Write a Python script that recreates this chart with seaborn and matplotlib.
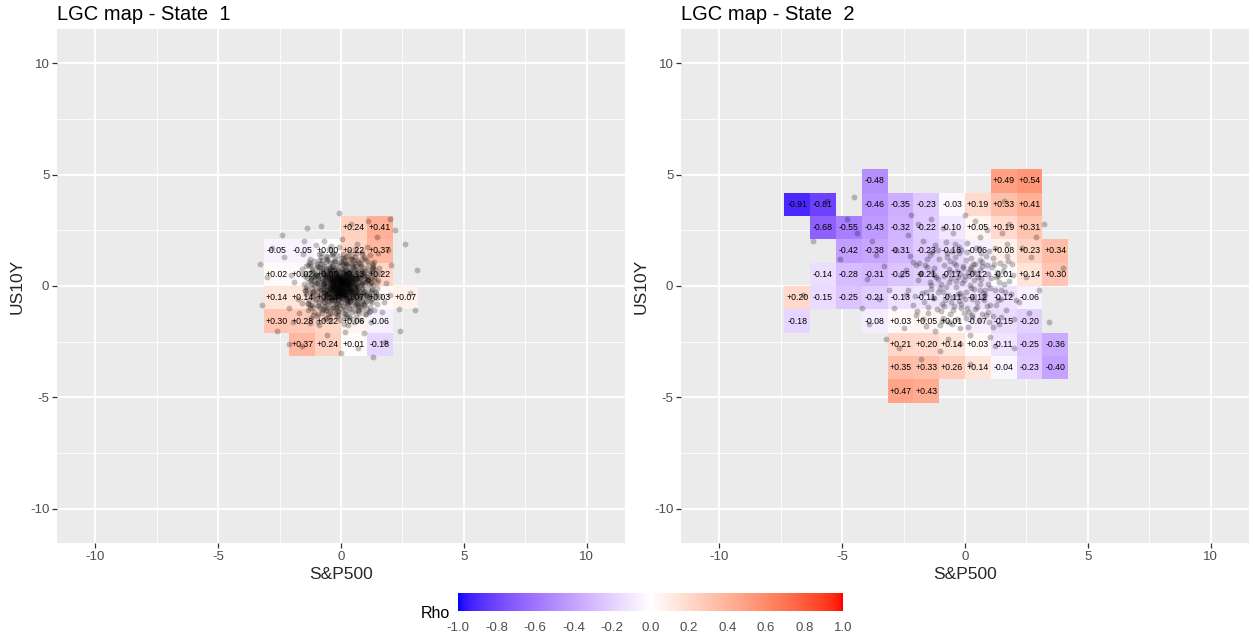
import numpy as np
import pandas as pd
import matplotlib
matplotlib.use("Agg")
import matplotlib.pyplot as plt
import seaborn as sns
from matplotlib.colors import ListedColormap, Normalize
from matplotlib.cm import ScalarMappable

# ---------------------------------------------------------------------------
# Local Gaussian correlation (rho) on the evaluation grid, per regime
# (tile centres in S&P500 / US10Y return units)
# ---------------------------------------------------------------------------
state1_sp = [0.525, 1.575,
             -2.625, -1.575, -0.525, 0.525, 1.575,
             -2.625, -1.575, -0.525, 0.525, 1.575,
             -2.625, -1.575, -0.525, 0.525, 1.575, 2.625,
             -2.625, -1.575, -0.525, 0.525, 1.575,
             -1.575, -0.525, 0.525, 1.575]
state1_us = [2.625, 2.625,
             1.575, 1.575, 1.575, 1.575, 1.575,
             0.525, 0.525, 0.525, 0.525, 0.525,
             -0.525, -0.525, -0.525, -0.525, -0.525, -0.525,
             -1.575, -1.575, -1.575, -1.575, -1.575,
             -2.625, -2.625, -2.625, -2.625]
state1_rho = [0.24, 0.41,
              -0.05, -0.05, 0.00, 0.22, 0.37,
              0.02, 0.02, 0.05, 0.13, 0.22,
              0.14, 0.14, 0.14, 0.07, 0.03, 0.07,
              0.30, 0.28, 0.22, 0.06, -0.06,
              0.37, 0.24, 0.01, -0.18]

state2_sp = [-3.675, 1.575, 2.625,
             -6.825, -5.775, -3.675, -2.625, -1.575, -0.525, 0.525, 1.575, 2.625,
             -5.775, -4.725, -3.675, -2.625, -1.575, -0.525, 0.525, 1.575, 2.625,
             -4.725, -3.675, -2.625, -1.575, -0.525, 0.525, 1.575, 2.625, 3.675,
             -5.775, -4.725, -3.675, -2.625, -1.575, -0.525, 0.525, 1.575, 2.625, 3.675,
             -6.825, -5.775, -4.725, -3.675, -2.625, -1.575, -0.525, 0.525, 1.575, 2.625,
             -6.825, -3.675, -2.625, -1.575, -0.525, 0.525, 1.575, 2.625,
             -2.625, -1.575, -0.525, 0.525, 1.575, 2.625, 3.675,
             -2.625, -1.575, -0.525, 0.525, 1.575, 2.625, 3.675,
             -2.625, -1.575]
state2_us = [4.725, 4.725, 4.725,
             3.675, 3.675, 3.675, 3.675, 3.675, 3.675, 3.675, 3.675, 3.675,
             2.625, 2.625, 2.625, 2.625, 2.625, 2.625, 2.625, 2.625, 2.625,
             1.575, 1.575, 1.575, 1.575, 1.575, 1.575, 1.575, 1.575, 1.575,
             0.525, 0.525, 0.525, 0.525, 0.525, 0.525, 0.525, 0.525, 0.525, 0.525,
             -0.525, -0.525, -0.525, -0.525, -0.525, -0.525, -0.525, -0.525, -0.525, -0.525,
             -1.575, -1.575, -1.575, -1.575, -1.575, -1.575, -1.575, -1.575,
             -2.625, -2.625, -2.625, -2.625, -2.625, -2.625, -2.625,
             -3.675, -3.675, -3.675, -3.675, -3.675, -3.675, -3.675,
             -4.725, -4.725]
state2_rho = [-0.48, 0.49, 0.54,
              -0.91, -0.81, -0.46, -0.35, -0.23, -0.03, 0.19, 0.33, 0.41,
              -0.68, -0.55, -0.43, -0.32, -0.22, -0.10, 0.05, 0.19, 0.31,
              -0.42, -0.38, -0.31, -0.23, -0.16, -0.06, 0.08, 0.23, 0.34,
              -0.14, -0.28, -0.31, -0.25, -0.21, -0.17, -0.12, -0.01, 0.14, 0.30,
              0.20, -0.15, -0.25, -0.21, -0.13, -0.11, -0.11, -0.12, -0.12, -0.06,
              -0.18, -0.08, 0.03, 0.05, 0.01, -0.07, -0.15, -0.20,
              0.21, 0.20, 0.14, 0.03, -0.11, -0.25, -0.36,
              0.35, 0.33, 0.26, 0.14, -0.04, -0.23, -0.40,
              0.47, 0.43]

# ---------------------------------------------------------------------------
# Observed daily returns (S&P500, US10Y) assigned to each regime
# ---------------------------------------------------------------------------
state1_obs = [
    (0.02, 0.05), (-0.12, 0.18), (0.21, -0.08), (-0.28, -0.03), (0.09, 0.33), (-0.05, -0.24), (0.31, 0.12), (-0.36, 0.27), (0.15, -0.33), (-0.18, 0.42),
    (0.42, -0.18), (-0.03, 0.01), (0.24, 0.27), (-0.33, -0.21), (0.06, -0.12), (-0.15, -0.39), (0.36, 0.39), (-0.42, 0.09), (0.12, 0.15), (-0.09, 0.30),
    (0.27, -0.27), (-0.24, 0.12), (0.00, -0.42), (0.18, 0.03), (-0.21, -0.12), (0.33, -0.03), (-0.39, -0.36), (0.03, 0.45), (-0.06, 0.12), (0.15, -0.21),
    (-0.30, 0.36), (0.39, 0.21), (-0.12, -0.06), (0.06, 0.24), (-0.45, -0.09), (0.21, 0.42), (-0.18, -0.27), (0.45, -0.33), (-0.03, -0.15), (0.09, 0.06),
    (-0.27, 0.21), (0.30, -0.15), (-0.09, -0.45), (0.24, 0.18), (-0.36, 0.00), (0.00, 0.21), (0.12, -0.39), (-0.15, 0.06), (0.36, 0.03), (-0.24, -0.33),
    (0.18, 0.36), (-0.42, 0.33), (0.03, -0.30), (-0.06, 0.39), (0.27, 0.09), (-0.21, 0.27), (0.42, -0.06), (-0.12, -0.18), (0.09, -0.03), (-0.33, 0.15),
    (0.15, 0.27), (-0.03, -0.33), (0.33, 0.30), (-0.18, 0.00), (0.06, 0.12), (-0.39, -0.18), (0.21, -0.42), (-0.09, 0.21), (0.39, -0.24), (-0.27, -0.09),
    (0.05, 0.10), (-0.20, 0.30), (0.35, -0.15), (-0.45, -0.05), (0.15, 0.55), (-0.10, -0.40), (0.50, 0.20), (-0.60, 0.45), (0.25, -0.55), (-0.30, 0.70),
    (0.70, -0.30), (-0.05, 0.00), (0.40, 0.45), (-0.55, -0.35), (0.10, -0.20), (-0.25, -0.65), (0.60, 0.65), (-0.70, 0.15), (0.20, 0.25), (-0.15, 0.50),
    (0.45, -0.45), (-0.40, 0.20), (0.00, -0.70), (0.30, 0.05), (-0.35, -0.20), (0.55, -0.05), (-0.65, -0.60), (0.05, 0.75), (-0.10, 0.20), (0.25, -0.35),
    (-0.50, 0.60), (0.65, 0.35), (-0.20, -0.10), (0.10, 0.40), (-0.75, -0.15), (0.35, 0.70), (-0.30, -0.45), (0.75, -0.55), (-0.05, -0.25), (0.15, 0.10),
    (-0.45, 0.35), (0.50, -0.25), (-0.15, -0.75), (0.40, 0.30), (-0.60, 0.00), (0.00, 0.35), (0.20, -0.65), (-0.25, 0.10), (0.60, 0.05), (-0.40, -0.55),
    (0.30, 0.60), (-0.70, 0.55), (0.05, -0.50), (-0.10, 0.65), (0.45, 0.15), (-0.35, 0.45), (0.70, -0.10), (-0.20, -0.30), (0.15, -0.05), (-0.55, 0.25),
    (0.25, 0.45), (-0.05, -0.55), (0.55, 0.50), (-0.30, 0.00), (0.10, 0.20), (-0.65, -0.30), (0.35, -0.70), (-0.15, 0.35), (0.65, -0.40), (-0.45, -0.15),
    (0.00, 0.15), (0.20, 0.70), (-0.25, -0.50), (0.50, 0.35), (-0.60, 0.70), (0.30, -0.25), (-0.10, -0.05), (0.75, 0.20), (-0.40, 0.55), (0.05, -0.35),
    (0.12, -0.34), (-0.47, 0.21), (0.83, 0.06), (-0.15, -0.92), (0.38, 0.61), (-0.71, -0.28), (1.05, -0.45), (-0.02, 0.77), (0.55, -0.13), (-1.12, 0.39),
    (0.27, 1.02), (-0.58, -0.66), (0.91, 0.48), (-0.33, 0.05), (0.06, -0.51), (-0.88, 0.84), (0.64, -0.79), (-0.19, 0.33), (1.21, 0.17), (-0.61, -1.08),
    (0.44, 0.19), (-0.07, -0.18), (0.73, -0.37), (-0.96, 0.12), (0.18, 0.88), (-0.41, -0.43), (0.99, 0.71), (-0.25, 1.14), (0.31, -0.97), (-1.28, -0.31),
    (0.02, 0.41), (-0.52, 0.57), (0.61, 0.29), (-0.13, -0.63), (0.86, -0.09), (-0.78, 0.31), (0.22, -0.24), (-0.36, 0.91), (1.17, -0.68), (-0.69, -0.02),
    (0.49, 0.82), (-0.21, -1.21), (0.14, 0.08), (-1.03, -0.57), (0.77, 0.55), (-0.45, 0.16), (0.33, -0.58), (-0.86, 1.03), (1.34, 0.33), (-0.11, -0.38),
    (0.58, -0.29), (-0.29, 0.47), (0.09, 1.26), (-0.64, -0.89), (0.95, -0.22), (-0.04, 0.24), (0.41, 0.46), (-1.19, 0.66), (0.69, -1.11), (-0.49, -0.14),
    (0.21, -0.71), (-0.82, -0.19), (1.09, 0.39), (-0.17, 0.62), (0.52, 0.03), (-0.56, 1.22), (0.81, 0.97), (-0.38, -0.77), (0.04, -0.09), (-0.93, 0.44),
    (0.36, 0.33), (-0.09, -0.47), (0.67, -0.58), (-0.74, 0.07), (1.26, -0.14), (-0.27, 0.29), (0.15, 0.69), (-0.59, -0.41), (0.89, 0.22), (-1.36, -0.76),
    (0.08, -0.26), (-0.43, 0.73), (0.79, -0.93), (-0.12, 0.14), (0.47, 1.18), (-0.99, -0.23), (0.26, -0.43), (-0.66, 0.49), (1.02, -0.36), (-0.31, -0.99),
    (0.63, 0.51), (-0.18, 0.96), (0.39, -0.17), (-1.08, 0.23), (0.17, -1.06), (-0.53, -0.31), (0.94, 0.62), (-0.01, -0.72), (0.71, 0.14), (-0.81, -0.63),
    (0.29, 0.04), (-0.63, 0.36), (1.14, -0.51), (-0.23, -0.19), (0.57, 0.77), (-0.91, -0.45), (0.11, 0.53), (-0.44, 1.07), (0.84, -0.66), (-1.21, 0.11),
    (0.46, -0.49), (-0.06, 0.36), (0.75, 0.37), (-0.68, -0.74), (0.03, 0.97), (-0.35, -0.08), (1.19, 0.58), (-0.79, 0.68), (0.24, -0.82), (-0.14, -0.31),
    (0.88, -0.41), (-0.49, 0.27), (0.19, -0.04), (-0.97, 0.97), (0.54, 0.26), (-0.24, -0.55), (0.68, 1.08), (-1.14, -0.41), (0.34, 0.58), (-0.57, 0.02),
    (1.31, 0.06), (-0.08, -0.84), (0.43, 0.42), (-0.73, 0.19), (0.01, -0.16), (-0.46, 0.64), (0.97, -0.81), (-0.28, -0.33), (0.62, 0.88), (-1.01, 0.55),
    (0.16, 0.27), (-0.54, -0.97), (0.82, 0.12), (-0.19, 0.51), (0.37, -0.67), (-0.86, -0.07), (0.07, 0.62), (-0.32, 0.18), (1.08, 0.27), (-0.62, -0.53),
    (0.53, -0.04), (-0.01, 1.09), (0.72, -0.24), (-1.24, 0.31), (0.28, 0.71), (-0.39, -0.64), (0.92, 0.43), (-0.16, -0.11), (0.45, -1.19), (-0.77, 0.81),
    (0.13, -0.58), (-0.67, 0.42), (1.23, -0.29), (-0.22, 0.83), (0.59, 0.36), (-0.94, -0.88), (0.32, 0.12), (-0.51, -0.24), (0.76, -0.47), (-0.05, 0.49),
    (0.99, 0.31), (-0.37, 0.38), (0.06, -0.37), (-0.83, -0.37), (0.41, 0.93), (-1.31, 0.19), (0.65, -0.14), (-0.12, 0.71), (0.23, 0.22), (-0.58, 1.17),
    (0.37, -0.11), (-0.26, -0.68), (0.85, 0.68), (-0.72, 0.58), (0.10, -0.89), (-0.45, 0.09), (1.12, 0.07), (-0.04, 0.32), (0.51, -0.32), (-1.06, -0.18),
    (0.19, 0.48), (-0.61, -0.16), (0.66, -0.72), (-0.30, 0.42), (0.96, 0.18), (-0.87, 0.34), (0.35, -0.55), (-0.13, -0.43), (0.78, 0.41), (-0.42, 0.81),
    (0.05, 0.17), (-0.10, 0.06), (0.22, -0.13), (-0.20, -0.22), (0.13, 0.29), (-0.31, 0.24), (0.27, 0.11), (-0.06, -0.31), (0.18, -0.27), (-0.24, 0.14),
    (0.32, 0.23), (-0.14, 0.39), (0.08, -0.08), (-0.37, -0.12), (0.25, 0.36), (-0.03, 0.16), (0.40, -0.21), (-0.27, -0.36), (0.11, 0.12), (-0.17, -0.02),
    (0.01, 0.28), (-0.34, 0.02), (0.29, -0.31), (-0.09, 0.26), (0.19, 0.04), (-0.22, -0.26), (0.35, 0.09), (-0.05, -0.13), (0.14, 0.37), (-0.39, 0.31),
    (0.24, -0.05), (-0.12, -0.23), (0.06, 0.21), (-0.28, 0.11), (0.38, -0.09), (-0.19, 0.33), (0.10, -0.35), (-0.35, -0.27), (0.17, 0.15), (-0.02, -0.06),
    (0.30, 0.30), (-0.25, 0.04), (0.12, -0.19), (-0.08, 0.41), (0.21, 0.25), (-0.40, -0.04), (0.04, -0.26), (-0.16, 0.20), (0.34, -0.16), (-0.30, -0.17),
    (0.58, 0.12), (-0.52, 0.13), (0.46, -0.27), (-0.48, -0.30), (0.43, 0.31), (-0.55, 0.44), (0.50, 0.52), (-0.60, -0.22), (0.52, -0.41), (-0.44, 0.52),
    (0.08, 0.58), (-0.11, -0.57), (0.15, 0.47), (-0.20, 0.55), (0.02, -0.48), (-0.27, -0.48), (0.26, 0.56), (-0.07, 0.52), (0.20, -0.51), (-0.33, 0.58),
    (0.62, -0.03), (-0.66, 0.01), (0.56, 0.33), (-0.58, -0.45), (0.48, -0.56), (-0.50, 0.38), (0.44, 0.07), (-0.70, 0.25), (0.60, -0.18), (-0.46, -0.50),
    (0.73, 0.86), (-0.89, 1.15), (1.04, -1.02), (-1.16, -0.84), (0.87, 1.21), (-0.76, -1.20), (1.28, 0.78), (-1.33, 0.93), (0.26, 1.33), (-0.11, -1.32),
    (1.41, -0.40), (-1.42, -0.05), (0.57, 1.30), (-0.62, 1.36), (1.17, -1.12), (-1.25, -1.00), (0.12, -1.40), (-0.38, 1.42), (1.44, 0.55), (-1.47, 0.47),
    (0.95, 0.55), (-1.05, -0.62), (0.58, -1.12), (-0.62, 1.08), (1.28, -0.18), (-1.22, 0.27), (0.21, 1.31), (-0.16, -1.37), (0.83, 0.92), (-0.87, -0.98),
    (1.12, 0.74), (-0.99, 0.81), (0.71, -0.86), (-0.52, -1.24), (1.36, 0.41), (-1.41, -0.36), (0.38, -1.46), (-0.34, 1.49), (1.01, -0.67), (-0.74, 0.63),
    (0.64, 1.18), (-1.17, -0.11), (1.19, -0.94), (-0.81, 1.31), (0.47, 0.88), (-0.57, -0.83), (1.43, -0.52), (-1.33, 0.58), (0.13, -0.96), (-0.09, 1.02),
    (0.89, -0.31), (-0.93, 0.21), (0.32, 1.55), (-0.44, -1.58), (1.07, 1.11), (-1.09, -1.19), (0.76, 0.36), (-0.69, -0.27), (1.31, 0.93), (-1.27, 1.01),
    (0.55, -0.73), (-0.48, 0.79), (1.22, 0.12), (-1.16, -0.49), (0.17, -1.22), (-0.23, 1.21), (0.97, -1.28), (-0.91, 1.42), (1.48, -0.07), (-1.52, 0.09),
    (0.69, 0.61), (-0.75, -0.58), (0.28, -0.81), (-0.31, 0.86), (1.15, -0.37), (-1.02, 0.49), (0.43, 1.37), (-0.49, -1.41), (0.86, -1.03), (-0.79, 0.97),
    (1.05, 0.22), (-1.11, 0.06), (0.61, -1.39), (-0.58, 1.29), (1.39, 0.71), (-1.35, -0.81), (0.07, 1.43), (-0.04, -1.51), (0.92, 1.29), (-0.96, -1.34),
    (0.79, -0.52), (-0.85, 0.51), (0.49, 0.99), (-0.41, -1.01), (1.26, -0.71), (-1.19, 0.78), (0.24, -1.28), (-0.27, 1.13), (1.51, 0.28), (-1.46, -0.22),
    (0.66, 0.02), (-0.71, 0.11), (0.14, 0.78), (-0.19, -0.79), (1.03, 0.47), (-0.98, -0.39), (0.52, -0.61), (-0.55, 0.66), (0.84, -0.12), (-0.89, 0.02),
    (0.35, -1.05), (-0.38, 1.04), (1.18, -0.45), (-1.24, 0.41), (0.62, 1.47), (-0.66, -1.49), (1.34, -1.08), (-1.28, 1.21), (0.03, -1.18), (-0.01, 1.25),
    (0.93, 0.83), (-0.88, -0.74), (0.45, -0.39), (-0.42, 0.41), (1.21, 0.38), (-1.14, -0.29), (0.72, -1.21), (-0.77, 1.18), (1.09, -0.13), (-1.06, 0.14),
    (0.26, 0.93), (-0.29, -0.94), (0.81, -0.78), (-0.84, 0.76), (1.45, 0.18), (-1.39, -0.14), (0.57, 1.03), (-0.61, -1.07), (1.17, 1.38), (-1.21, -1.42),
    (0.72, 0.43), (-0.66, -0.46), (0.37, -0.68), (-0.35, 0.71), (0.98, -0.58), (-1.04, 0.59), (0.18, 1.08), (-0.14, -1.11), (1.27, 0.58), (-1.31, -0.61),
    (0.51, -1.62), (-0.47, 1.66), (1.41, -0.31), (-1.37, 0.36), (0.87, 1.53), (-0.92, -1.61), (1.55, 0.83), (-1.58, -0.78), (0.11, -1.71), (-0.08, 1.74),
    (0.76, 0.67), (-0.73, -0.86), (0.59, -0.47), (-0.63, 0.44), (1.08, 0.94), (-1.13, -0.93), (0.31, 0.62), (-0.37, -0.61), (0.95, -0.84), (-0.99, 0.88),
    (1.24, -0.57), (-1.18, 0.63), (0.42, 1.21), (-0.45, -1.23), (0.68, -0.96), (-0.71, 0.92), (1.36, 1.09), (-1.33, -1.06), (0.19, -0.58), (-0.22, 0.57),
    (0.87, 0.14), (-0.82, -0.17), (0.53, 0.71), (-0.50, -0.70), (1.14, -1.17), (-1.09, 1.14), (0.33, -1.41), (-0.36, 1.39), (1.59, -0.46), (-1.54, 0.52),
    (0.61, 0.33), (-0.58, -0.36), (0.92, -0.27), (-0.95, 0.31), (0.12, 1.17), (-0.17, -1.14), (1.29, 0.81), (-1.25, -0.84), (0.47, -0.89), (-0.43, 0.84),
    (0.79, 1.04), (-0.76, -1.08), (1.02, -0.42), (-1.07, 0.47), (0.27, -0.72), (-0.24, 0.73), (1.47, -0.83), (-1.42, 0.88), (0.65, -0.26), (-0.68, 0.23),
    (0.41, 0.54), (-0.44, -0.53), (1.11, 0.29), (-1.16, -0.26), (0.58, -0.84), (-0.61, 0.81), (0.97, 1.22), (-0.93, -1.26), (0.22, 0.98), (-0.19, -0.97),
    (1.10, 0.30), (-1.05, 0.45), (0.90, -0.80), (-0.95, -0.85), (1.25, 1.05), (-1.30, 1.10), (0.40, 1.20), (-0.35, -1.20), (1.40, -0.25), (-1.45, -0.20),
    (0.85, 1.45), (-0.80, 1.50), (0.20, -1.35), (-0.60, -1.45), (1.60, 0.60), (-1.60, 0.75), (1.00, -1.25), (-1.15, -1.30), (0.55, 1.65), (-0.15, 1.40),
    (1.75, -0.70), (-1.75, -0.60), (0.95, 0.05), (-0.90, 0.10), (0.10, 1.00), (-0.05, -1.00), (1.30, 0.85), (-1.20, 0.90), (0.70, -1.10), (-0.75, -1.05),
    (1.50, 1.50), (-1.55, 1.45), (1.85, 0.15), (-1.90, 0.20), (0.30, -1.75), (-0.40, 1.80), (1.20, -1.60), (-1.25, -1.65), (0.65, 1.90), (-0.70, 2.00),
    (2.05, 0.95), (-2.10, -1.00), (1.05, 1.75), (-1.00, 1.85), (0.80, -1.55), (-0.90, -1.75), (1.65, -1.15), (-1.70, -1.20), (2.00, -0.40), (-2.05, 0.50),
    (1.90, 1.60), (-1.50, 2.00), (0.05, 2.10), (0.15, -2.05), (1.45, 2.20), (-2.30, 1.30), (2.35, -1.05), (-1.95, -1.60), (0.95, -2.10), (-0.55, -2.20),
    (-0.10, 3.30), (2.20, 2.50), (-3.20, -0.85), (3.10, 0.70), (1.30, -3.20), (-2.80, 1.70), (2.60, 1.90), (-2.60, -2.00), (0.40, 2.80), (-1.40, 2.60),
    (2.80, -0.30), (-3.00, 0.40), (1.80, -2.50), (-1.60, -2.70), (0.70, -2.80), (-2.40, 2.30), (2.40, -2.00), (3.00, -1.10), (-0.80, 2.70), (1.10, 2.90),
    (-3.30, 1.00), (2.00, 3.00), (-2.10, -2.60), (0.00, -3.00),
]

state2_obs = [
    (-0.30, 0.40), (0.25, -0.10), (-0.85, 0.95), (0.60, 0.70), (-1.10, -0.25), (0.05, 1.15), (-0.55, -0.70), (0.95, 0.10), (-0.20, -0.30), (0.40, 1.00),
    (-1.25, 0.50), (0.75, -0.55), (-0.65, 0.20), (0.15, 0.45), (-0.95, -0.80), (1.10, 0.85), (-0.40, 1.30), (0.50, -0.95), (-1.40, 0.05), (0.00, -0.60),
    (-0.75, 1.50), (0.85, 1.35), (-0.10, 0.80), (0.30, -1.30), (-1.05, 1.20), (1.20, -0.20), (-0.50, -1.10), (0.65, 0.30), (-1.30, -0.55), (0.20, 0.05),
    (-0.85, 0.45), (0.45, 0.60), (-0.15, -1.00), (1.00, -0.85), (-1.55, 0.85), (0.10, 1.55), (-0.60, 0.65), (0.80, -0.20), (-0.35, -0.05), (1.35, 0.45),
    (-1.15, -1.05), (0.55, 1.70), (-0.25, 1.75), (-1.60, -0.25), (0.35, -0.45), (-0.70, -0.40), (1.45, -0.60), (-0.05, 0.25), (-1.80, 0.60), (0.90, 0.95),
    (-0.45, 1.05), (0.05, -1.45), (-1.00, -0.10), (0.70, -1.25), (-0.20, 0.55), (1.15, 1.25), (-1.35, 1.55), (0.25, 0.85), (-0.90, -1.45), (1.60, 0.10),
    (-1.62, 0.94), (0.84, -1.32), (-0.41, 1.87), (1.53, 0.66), (-2.05, -0.47), (0.37, 0.29), (-0.93, -1.58), (1.86, -0.38), (-0.18, -0.82), (0.66, 1.48),
    (-1.37, -0.12), (1.21, 1.71), (-0.67, 0.76), (0.12, -1.83), (-2.22, 1.35), (0.93, 0.52), (-0.29, -0.37), (1.67, -1.06), (-1.08, 1.63), (0.48, -0.72),
    (-0.82, -0.63), (1.39, 0.17), (-1.93, 0.28), (0.23, 1.26), (-0.51, -1.69), (1.02, -0.07), (-1.49, -0.94), (0.71, 0.91), (-0.06, -1.21), (-2.41, 0.71),
    (0.59, -0.16), (-1.18, 0.41), (1.74, 1.12), (-0.35, 0.96), (0.97, -1.61), (-1.71, -1.47), (0.31, 0.63), (-0.77, 1.97), (1.28, -0.84), (-0.13, 0.14),
    (-2.13, -0.86), (0.42, -1.05), (-0.98, 0.07), (1.57, 0.89), (-0.24, 1.48), (0.81, -0.41), (-1.56, 1.21), (0.05, -0.28), (-0.62, -1.27), (1.94, 0.49),
    (-1.27, 0.83), (0.68, 1.06), (-0.44, -0.91), (1.13, -1.34), (-1.84, 0.52), (0.19, 0.78), (-0.88, -0.29), (1.46, -0.19), (-0.15, 1.63), (0.55, -1.52),
    (-1.02, -1.76), (1.31, 0.64), (-0.57, 0.38), (0.07, 1.92), (-2.31, -0.18), (0.89, -0.92), (-0.33, -1.48), (1.69, 1.36), (-1.44, 0.16), (0.36, -0.12),
    (-0.72, 1.31), (1.06, 0.34), (-1.66, -0.71), (0.27, -0.57), (-0.09, 0.91), (1.48, -1.41), (-1.22, 1.86), (0.63, 0.07), (-0.47, -0.48), (2.08, -0.61),
    (-1.89, 1.04), (0.16, -1.17), (-0.61, 1.13), (1.18, 0.98), (-0.97, -1.12), (0.74, -0.31), (-1.33, 0.61), (0.43, 1.71), (-0.21, -1.91), (1.61, -0.27),
    (-0.38, 0.22), (0.97, 1.58), (-1.52, -1.21), (0.01, 0.47), (-0.79, -0.06), (1.36, -0.64), (-2.01, 0.93), (0.52, 0.41), (-0.26, -0.69), (1.12, -1.83),
    (-1.11, 0.33), (0.28, -1.41), (-0.54, 1.59), (1.79, 0.22), (-1.74, -0.33), (0.61, 1.19), (-0.11, -0.46), (0.95, -1.19), (-1.41, 1.41), (0.14, 0.63),
    (-0.85, -0.88), (1.44, 1.02), (-0.31, 0.68), (0.77, -0.61), (-1.97, -1.12), (0.34, 1.01), (-0.66, -1.63), (1.25, 0.41), (-1.28, -0.52), (0.08, -0.99),
    (-2.10, 1.10), (-2.40, -0.40), (1.90, 1.00), (-1.70, 2.00), (0.60, 2.20), (-0.50, 2.40), (2.20, -0.70), (-2.60, 0.50), (1.40, -1.70), (-1.20, -2.00),
    (0.20, -2.20), (-2.00, -1.30), (1.70, 1.90), (-2.80, 1.60), (2.50, 0.40), (-0.90, 2.60), (1.00, -2.30), (-3.10, -0.20), (0.90, 2.50), (-1.60, -1.80),
    (-2.30, 2.30), (2.00, -1.50), (-3.30, 0.90), (-0.20, -2.60), (1.50, 2.40), (-2.90, -1.00), (2.70, 1.30), (-1.90, 2.80), (0.40, 2.90), (-3.60, 1.40),
    (-1.40, 3.00), (2.30, 1.70), (-3.50, -0.60), (-0.70, -2.40), (1.20, -2.70), (-2.50, -1.90), (3.00, -0.20), (-4.00, 0.30), (0.00, 3.20), (-2.20, 3.20),
    (2.60, -1.20), (-3.80, 2.00), (1.80, 2.80), (-1.00, -2.90), (-4.20, -1.00),
    (-5.60, 3.80), (-4.80, 3.00), (-4.40, 2.40), (3.20, 2.80), (-3.90, -1.70), (2.90, 2.20), (-5.10, 1.20), (-6.60, -0.40), (3.40, -1.60), (0.20, -3.50),
    (-2.70, -2.80), (1.60, 3.80), (-4.50, 4.00), (2.00, -2.80), (-3.20, -2.40), (-6.20, 2.00), (4.00, 0.80), (-1.80, -3.30),
]

panel_titles = ["LGC map - State  1", "LGC map - State  2"]
x_label = "S&P500"
y_label = "US10Y"
legend_title = "Rho"
axis_ticks = [-10, -5, 0, 5, 10]
legend_ticks = [-1.0, -0.8, -0.6, -0.4, -0.2, 0.0, 0.2, 0.4, 0.6, 0.8, 1.0]

# Evaluation grid: 20 x 20 cells covering [-10.5, 10.5]
GRID_LO, GRID_HI, GRID_N = -10.5, 10.5, 20


# ---------------------------------------------------------------------------
# Diverging blue-white-red palette interpolated in CIE Lab
# ---------------------------------------------------------------------------
_M = np.array([[0.4124564, 0.3575761, 0.1804375],
               [0.2126729, 0.7151522, 0.0721750],
               [0.0193339, 0.1191920, 0.9503041]])
_WP = np.array([0.95047, 1.0, 1.08883])


def srgb_to_lab(c):
    c = np.asarray(c, float)
    lin = np.where(c <= 0.04045, c / 12.92, ((c + 0.055) / 1.055) ** 2.4)
    t = (_M @ lin) / _WP
    f = np.where(t > (6 / 29) ** 3, np.cbrt(t), t / (3 * (6 / 29) ** 2) + 4 / 29)
    return np.array([116 * f[1] - 16, 500 * (f[0] - f[1]), 200 * (f[1] - f[2])])


def lab_to_srgb(lab):
    L, a, b = lab
    fy = (L + 16) / 116
    f = np.array([fy + a / 500, fy, fy - b / 200])
    t = np.where(f > 6 / 29, f ** 3, 3 * (6 / 29) ** 2 * (f - 4 / 29))
    lin = np.clip(np.linalg.solve(_M, t * _WP), 0, 1)
    c = np.where(lin <= 0.0031308, 12.92 * lin, 1.055 * lin ** (1 / 2.4) - 0.055)
    return np.clip(c, 0, 1)


lab_low = srgb_to_lab([0, 0, 1])
lab_mid = srgb_to_lab([1, 1, 1])
lab_high = srgb_to_lab([1, 0, 0])
cols = []
for v in np.linspace(-1, 1, 511):
    if v < 0:
        lab = lab_mid + (lab_low - lab_mid) * (-v)
    else:
        lab = lab_mid + (lab_high - lab_mid) * v
    cols.append(lab_to_srgb(lab))
rho_cmap = ListedColormap(cols)
rho_norm = Normalize(vmin=-1, vmax=1)

# ---------------------------------------------------------------------------
# Styling (ggplot-like grey panel)
# ---------------------------------------------------------------------------
sns.set_theme(style="darkgrid", rc={
    "axes.facecolor": "#EBEBEB",
    "grid.color": "white",
    "axes.edgecolor": "#EBEBEB",
    "axes.unicode_minus": False,
})
plt.rcParams["font.family"] = ["Liberation Sans", "DejaVu Sans"]

W, H = 1253, 638
fig = plt.figure(figsize=(W / 100, H / 100), dpi=100)
fig.patch.set_facecolor("white")

edges = np.linspace(GRID_LO, GRID_HI, GRID_N + 1)
cell = (GRID_HI - GRID_LO) / GRID_N
lim = GRID_HI * 1.1

panels = [
    (57, state1_sp, state1_us, state1_rho, state1_obs, panel_titles[0]),
    (681, state2_sp, state2_us, state2_rho, state2_obs, panel_titles[1]),
]

for left_px, sp, us, rho, obs, title in panels:
    ax = fig.add_axes([left_px / W, 1 - 543 / H, 568 / W, 514 / H])

    tiles = pd.DataFrame({"sp": sp, "us": us, "rho": rho})
    grid = np.full((GRID_N, GRID_N), np.nan)
    ix = np.floor((tiles["sp"] - GRID_LO) / cell).astype(int)
    iy = np.floor((tiles["us"] - GRID_LO) / cell).astype(int)
    grid[iy, ix] = tiles["rho"]
    ax.pcolormesh(edges, edges, np.ma.masked_invalid(grid), cmap=rho_cmap,
                  norm=rho_norm, zorder=1.5, edgecolors="face", linewidth=0.0)

    for _, r in tiles.iterrows():
        ax.text(r["sp"], r["us"], f"{r['rho']:+.2f}", ha="center", va="center",
                fontsize=6.3, color="black", zorder=3)

    pts = pd.DataFrame(obs, columns=["sp", "us"])
    sns.scatterplot(data=pts, x="sp", y="us", ax=ax, color="black", alpha=0.24,
                    s=18, linewidth=0, zorder=4, legend=False)

    ax.set_xlim(-lim, lim)
    ax.set_ylim(-lim, lim)
    ax.set_xticks(axis_ticks)
    ax.set_yticks(axis_ticks)
    ax.set_xticklabels([str(t) for t in axis_ticks])
    ax.set_yticklabels([str(t) for t in axis_ticks])
    ax.set_xticks([-7.5, -2.5, 2.5, 7.5], minor=True)
    ax.set_yticks([-7.5, -2.5, 2.5, 7.5], minor=True)
    ax.grid(which="major", color="white", linewidth=1.3)
    ax.grid(which="minor", color="white", linewidth=0.6)
    ax.set_axisbelow(True)
    for s in ax.spines.values():
        s.set_visible(False)
    ax.tick_params(which="major", length=3.5, width=0.9, color="#333333",
                   labelcolor="#4D4D4D", labelsize=9.5, pad=2,
                   bottom=True, left=True)
    ax.tick_params(which="minor", length=0)
    ax.set_xlabel(x_label, fontsize=12.5, labelpad=3)
    ax.set_ylabel(y_label, fontsize=12.5, labelpad=4)
    ax.text(0, 1 + 9 / 514, title, transform=ax.transAxes, ha="left",
            va="baseline", fontsize=14.5, color="black")

# Colour bar legend
cax = fig.add_axes([458 / W, 1 - 611 / H, 385 / W, 18 / H])
cb = fig.colorbar(ScalarMappable(norm=rho_norm, cmap=rho_cmap), cax=cax,
                  orientation="horizontal")
cb.outline.set_visible(False)
cb.set_ticks(legend_ticks)
cb.ax.set_xticklabels([f"{t:.1f}" for t in legend_ticks])
cb.ax.tick_params(direction="in", color="white", length=3.5, width=0.8,
                  top=True, bottom=True, labelsize=9.5, labelcolor="#4D4D4D",
                  pad=8)
fig.text(450 / W, 1 - 613 / H, legend_title, ha="right", va="center",
         fontsize=11.5, color="black")

fig.savefig("out.png", dpi=100, facecolor="white")
